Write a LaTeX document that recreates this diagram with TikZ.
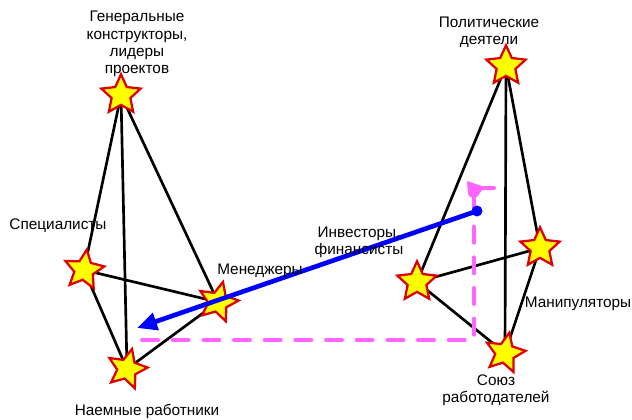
\documentclass[tikz,border=0pt]{standalone}
\usepackage{fontspec}
\setmainfont{Liberation Sans}
\usetikzlibrary{shapes.geometric}
\usetikzlibrary{backgrounds}
\usetikzlibrary{arrows.meta}

\begin{document}
\begin{tikzpicture}[x=0.75pt,y=0.75pt,yscale=-1,xscale=1,
  actor/.style={star,star points=5,star point ratio=2.1,minimum size=31pt,inner sep=0pt,
    fill={rgb,255:red,255;green,255;blue,0},draw={rgb,255:red,220;green,0;blue,0},line width=1.7pt},
  tie/.style={line width=2pt},
  lbl/.style={inner sep=0.75pt,font=\fontsize{11.5}{13}\selectfont,align=center}]
\useasboundingbox (0,0) rectangle (632,419);

%Stars: left pyramid
\node [actor] (gen) at (121,95) {};
\node [actor,rotate=-8] (spec) at (84,270) {};
\node [actor,rotate=-14] (mgr) at (218,302) {};
\node [actor,rotate=-14] (hired) at (127,369) {};
%Stars: right pyramid
\node [actor] (polit) at (506,66) {};
\node [actor] (invest) at (417,282) {};
\node [actor] (manip) at (540,248) {};
\node [actor,rotate=-12] (union) at (505,353) {};

%Edges
\begin{scope}[on background layer]
\draw [tie] (gen.center) -- (spec.center) ;
\draw [tie] (gen.center) -- (hired.center) ;
\draw [tie] (gen.center) -- (mgr.center) ;
\draw [tie] (spec.center) -- (mgr.center) ;
\draw [tie] (spec.center) -- (hired.center) ;
\draw [tie] (mgr.center) -- (hired.center) ;
\draw [tie] (polit.center) -- (invest.center) ;
\draw [tie] (polit.center) -- (union.center) ;
\draw [tie] (polit.center) -- (manip.center) ;
\draw [tie] (invest.center) -- (manip.center) ;
\draw [tie] (invest.center) -- (union.center) ;
\draw [tie] (manip.center) -- (union.center) ;
\end{scope}

%Pink dashed path with flag
\coordinate (corner) at (474,340);
\coordinate (pole) at (474,196);
\coordinate (back) at (137,340);
\draw [draw={rgb,255:red,255;green,102;blue,255},line width=3pt,line cap=round,dash pattern=on 12pt off 11pt]
  (pole) -- (corner) -- (back) ;
\fill [fill={rgb,255:red,255;green,102;blue,255}] (467,181) -- (482,186) -- (494,186) -- (494,190) -- (482,190) -- (477,197) -- (470,197) -- (468,194) -- cycle ;
\draw [draw={rgb,255:red,255;green,102;blue,255},line width=3pt,line cap=round] (482,188) -- (494,188) ;

%Blue arrow
\coordinate (flow) at (477,211);
\coordinate (tip) at (137,328);
\draw [draw={rgb,255:red,0;green,0;blue,255},line width=3.5pt,-{Triangle[length=15pt,width=13pt]}] (flow) -- (tip) ;
\fill [fill={rgb,255:red,0;green,0;blue,255}] (flow) circle (5.5) ;

% Text Node
\node [lbl] (genlbl) at (137,44) {Генеральные\\конструкторы,\\лидеры\\проектов};
% Text Node
\node [lbl] (speclbl) at (58,226) {Специалисты};
% Text Node
\node [lbl] (mgrlbl) at (260,271) {Менеджеры};
% Text Node
\node [lbl] (hiredlbl) at (147,411) {Наемные работники};
% Text Node
\node [lbl] (politlbl) at (489,32) {Политические\\деятели};
% Text Node
\node [lbl] (investlbl) at (359,242) {Инвесторы,\\финансисты};
% Text Node
\node [lbl] (maniplbl) at (578,304) {Манипуляторы};
% Text Node
\node [lbl] (unionlbl) at (496,390) {Союз\\работодателей};

\end{tikzpicture}
\end{document}
